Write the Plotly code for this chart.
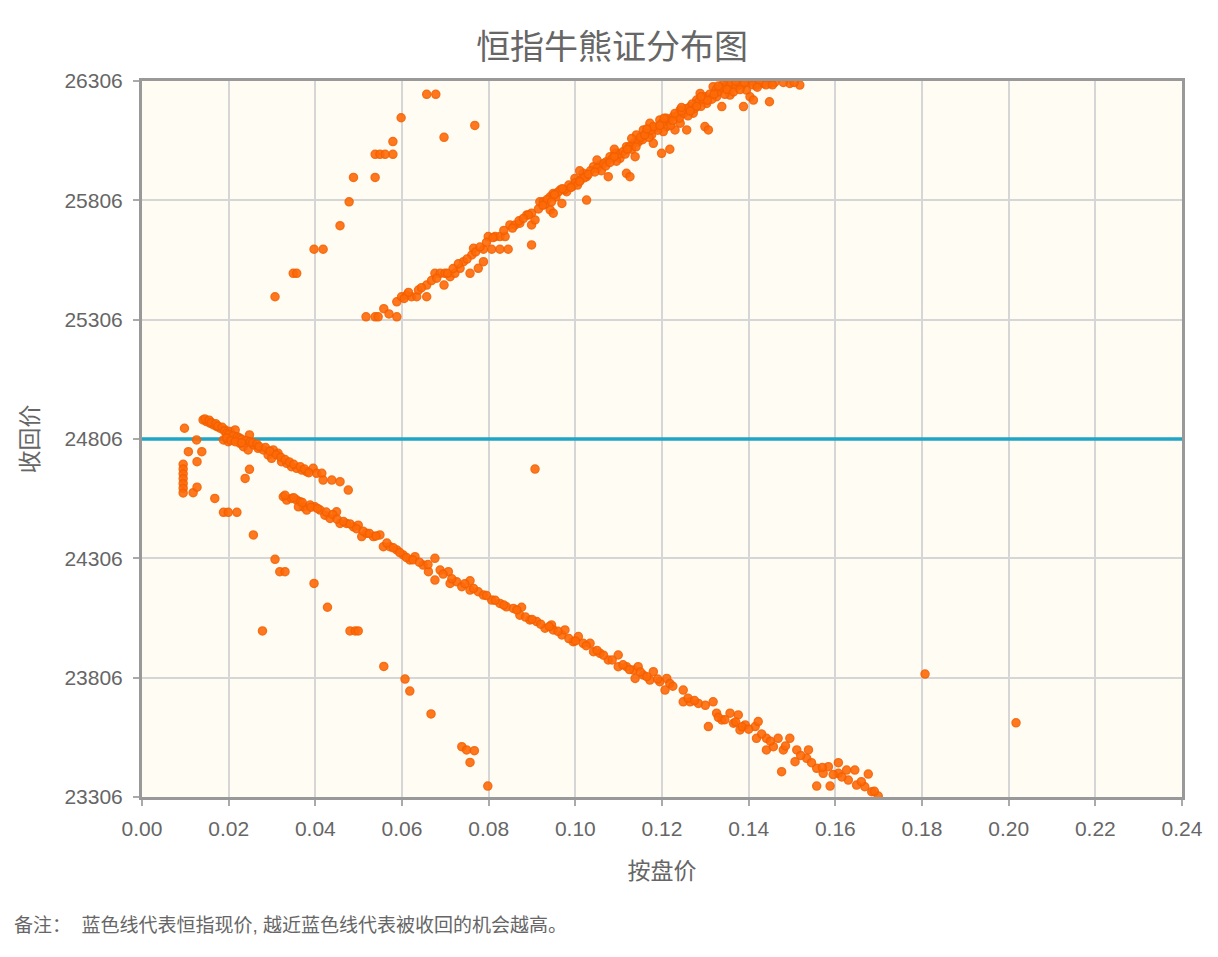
import plotly.graph_objects as go

# 恒指现价 (blue line)
spot_price = 24806
x_range = [0, 0.24]
y_ticks = [23306, 23806, 24306, 24806, 25306, 25806, 26306]

# 熊证 - steep sparse group (upper left)
steep_x = [0.0307, 0.0349, 0.0357, 0.0397, 0.0418, 0.0457, 0.0478, 0.0488, 0.0538, 0.0538,
           0.0549, 0.0561, 0.0579, 0.0579, 0.0598, 0.0657, 0.0678, 0.0697, 0.0768]
steep_y = [25402, 25500, 25500, 25601, 25601, 25700, 25800, 25902, 25902, 25999,
           25999, 25999, 25999, 26052, 26152, 26250, 26250, 26070, 26120]

# 熊证 - main band
bear_x = [0.0517, 0.0538, 0.0545, 0.0558, 0.0588, 0.0588, 0.0599, 0.0611, 0.0622, 0.0634,
          0.0638, 0.0657, 0.0657, 0.0676, 0.0688, 0.0699, 0.0697, 0.0711, 0.0722, 0.0734,
          0.0742, 0.0757, 0.0761, 0.0765, 0.0776, 0.0788, 0.0788, 0.0799, 0.0807, 0.0815,
          0.0826, 0.0826, 0.0838, 0.0845, 0.0849, 0.0861, 0.0872, 0.0888, 0.0899, 0.0899,
          0.0899, 0.0907, 0.0918, 0.0892, 0.0926, 0.0942, 0.0949, 0.0942, 0.0949, 0.0965,
          0.0969, 0.0980, 0.0992, 0.0999, 0.1011, 0.1018, 0.1026, 0.1026, 0.1042, 0.1057,
          0.1072, 0.1076, 0.1080, 0.1092, 0.1103, 0.1118, 0.1126, 0.1118, 0.1134, 0.1138,
          0.1141, 0.1149, 0.1157, 0.1172, 0.1180, 0.1176, 0.1195, 0.1199, 0.1218, 0.1211,
          0.1203, 0.1226, 0.1230, 0.1242, 0.1242, 0.1257, 0.1265, 0.1272, 0.1280, 0.1288,
          0.1299, 0.1307, 0.1303, 0.1318, 0.1326, 0.1334, 0.1338, 0.1349, 0.1357, 0.1365,
          0.1380, 0.1388, 0.1395, 0.1403, 0.1411, 0.1418, 0.1434, 0.1448, 0.1449, 0.1495,
          0.1518,
          0.0570, 0.0605, 0.0615, 0.0645, 0.0668, 0.0680, 0.0705, 0.0718, 0.0730, 0.0750,
          0.0770, 0.0780, 0.0795, 0.0810, 0.0835, 0.0855, 0.0870, 0.0880, 0.0915, 0.0930,
          0.0935, 0.0955, 0.0960, 0.0975, 0.0985, 0.1000, 0.1005, 0.1020, 0.1035, 0.1050,
          0.1060, 0.1065, 0.1085, 0.1095, 0.1100, 0.1110, 0.1125, 0.1130, 0.1145, 0.1155,
          0.1165, 0.1170, 0.1185, 0.1190, 0.1200, 0.1215, 0.1220, 0.1235, 0.1240, 0.1250,
          0.1255, 0.1260, 0.1270, 0.1275, 0.1285, 0.1290, 0.1300, 0.1310, 0.1315, 0.1325,
          0.1330, 0.1340, 0.1345, 0.1355, 0.1360, 0.1370, 0.1375, 0.1385, 0.1400, 0.1410,
          0.1425, 0.1440, 0.1460, 0.1505,
          0.0925, 0.0945, 0.0952, 0.0970, 0.0990, 0.1010, 0.1030, 0.1045, 0.1070, 0.1080,
          0.1090, 0.1115, 0.1120, 0.1140, 0.1150, 0.1160, 0.1175, 0.1180, 0.1195, 0.1210,
          0.1225, 0.1230, 0.1245, 0.1265, 0.1280, 0.1295, 0.1305, 0.1320, 0.1335, 0.1350,
          0.1365, 0.1380, 0.1390, 0.1420, 0.1455, 0.1480,
          0.1010, 0.1050, 0.1090, 0.1130, 0.1165, 0.1205, 0.1245, 0.1290, 0.1330, 0.1370]
bear_y = [25318, 25318, 25318, 25352, 25318, 25381, 25402, 25409, 25402, 25402,
          25430, 25451, 25402, 25500, 25500, 25500, 25451, 25486, 25500, 25521,
          25549, 25500, 25577, 25605, 25521, 25549, 25601, 25654, 25601, 25654,
          25654, 25601, 25654, 25601, 25703, 25703, 25710, 25745, 25752, 25619,
          25703, 25724, 25800, 25745, 25800, 25821, 25835, 25766, 25752, 25849,
          25793, 25842, 25863, 25898, 25891, 25919, 25905, 25807, 25947, 25954,
          25968, 25905, 25989, 26003, 25982, 25919, 25905, 26031, 26045, 25989,
          26080, 26059, 26101, 26129, 26045, 26080, 26143, 26003, 26020, 26115,
          26094, 26157, 26101, 26185, 26129, 26101, 26199, 26171, 26226, 26254,
          26115, 26101, 26212, 26282, 26240, 26268, 26199, 26289, 26247, 26296,
          26289, 26199, 26268, 26240, 26226, 26289, 26296, 26219, 26296, 26296,
          26289,
          25330, 25395, 25420, 25440, 25470, 25480, 25500, 25520, 25540, 25560,
          25590, 25610, 25630, 25650, 25680, 25690, 25720, 25730, 25770, 25790,
          25810, 25820, 25840, 25850, 25870, 25880, 25870, 25900, 25930, 25940,
          25930, 25960, 25980, 25970, 26000, 26010, 26030, 26020, 26050, 26060,
          26090, 26070, 26110, 26100, 26130, 26140, 26120, 26160, 26150, 26170,
          26190, 26160, 26210, 26190, 26220, 26200, 26240, 26250, 26230, 26270,
          26260, 26290, 26250, 26280, 26300, 26280, 26300, 26290, 26300, 26290,
          26300, 26290, 26300, 26300,
          25785, 25800, 25830, 25855, 25860, 25885, 25915, 25925, 25950, 25965,
          25990, 26000, 26020, 26030, 26070, 26080, 26100, 26115, 26120, 26150,
          26140, 26170, 26180, 26180, 26200, 26230, 26225, 26250, 26280, 26270,
          26260, 26270, 26300, 26280, 26290, 26300,
          25930, 25975, 26020, 26065, 26105, 26150, 26195, 26240, 26285, 26305]

# 牛证 - group hugging the blue line
near_x = [0.0098, 0.0126, 0.0107, 0.0138, 0.0127, 0.0095, 0.0095, 0.0095, 0.0095, 0.0095,
          0.0095, 0.0095, 0.0118, 0.0127, 0.0248, 0.0238, 0.0248,
          0.0141, 0.0149, 0.0157, 0.0165, 0.0173, 0.0180, 0.0192, 0.0203, 0.0215, 0.0188,
          0.0199, 0.0211, 0.0226, 0.0234, 0.0245, 0.0257, 0.0268, 0.0280, 0.0291, 0.0303,
          0.0299, 0.0314, 0.0322, 0.0334, 0.0345, 0.0357, 0.0369, 0.0380, 0.0395, 0.0403,
          0.0415, 0.0418, 0.0438, 0.0457, 0.0476,
          0.0145, 0.0155, 0.0160, 0.0170, 0.0175, 0.0185, 0.0190, 0.0195, 0.0200, 0.0210,
          0.0220, 0.0225, 0.0230, 0.0240, 0.0250, 0.0255, 0.0265, 0.0270, 0.0285, 0.0295,
          0.0310, 0.0320, 0.0330, 0.0340, 0.0350, 0.0365, 0.0375, 0.0385, 0.0195, 0.0205,
          0.0215, 0.0230]
near_y = [24851, 24802, 24753, 24753, 24711, 24700, 24680, 24660, 24640, 24620,
          24600, 24580, 24581, 24604, 24679, 24641, 24823,
          24886, 24879, 24872, 24865, 24858, 24851, 24844, 24837, 24844, 24802,
          24795, 24802, 24788, 24774, 24760, 24781, 24767, 24760, 24739, 24760,
          24725, 24746, 24711, 24704, 24690, 24683, 24676, 24669, 24683, 24662,
          24662, 24634, 24634, 24627, 24592,
          24890, 24885, 24875, 24870, 24860, 24855, 24840, 24830, 24825, 24820,
          24815, 24810, 24805, 24800, 24795, 24790, 24785, 24775, 24770, 24755,
          24740, 24730, 24720, 24710, 24700, 24690, 24680, 24665, 24810, 24800,
          24795, 24790]

# 牛证 - main band
bull_x = [0.0326, 0.0334, 0.0345, 0.0357, 0.0365, 0.0372, 0.0361, 0.0380, 0.0388, 0.0399,
          0.0411, 0.0422, 0.0434, 0.0449, 0.0457, 0.0472, 0.0488, 0.0499, 0.0507, 0.0518,
          0.0534, 0.0549, 0.0557, 0.0572, 0.0588, 0.0603, 0.0618, 0.0630, 0.0649, 0.0661,
          0.0676, 0.0676, 0.0688, 0.0707, 0.0711, 0.0726, 0.0738, 0.0757, 0.0757, 0.0776,
          0.0788, 0.0807, 0.0826, 0.0841, 0.0857, 0.0872, 0.0876, 0.0895, 0.0911, 0.0930,
          0.0945, 0.0949, 0.0969, 0.0976, 0.0995, 0.1007, 0.1018, 0.1034, 0.1042, 0.1057,
          0.1076, 0.1099, 0.1099, 0.1118, 0.1134, 0.1145, 0.1138, 0.1157, 0.1172, 0.1180,
          0.1195, 0.1211, 0.1207, 0.1218, 0.1249, 0.1249, 0.1265, 0.1284, 0.1318, 0.1307,
          0.1326, 0.1338, 0.1357, 0.1365, 0.1376, 0.1380, 0.1392, 0.1415, 0.1422, 0.1418,
          0.1441, 0.1441, 0.1457, 0.1468, 0.1480, 0.1476, 0.1495, 0.1507, 0.1511, 0.1538,
          0.1534, 0.1557, 0.1557, 0.1572, 0.1584, 0.1588, 0.1607, 0.1607, 0.1626, 0.1630,
          0.1645, 0.1649, 0.1668, 0.1676, 0.1684, 0.1699,
          0.0330, 0.0350, 0.0370, 0.0390, 0.0405, 0.0425, 0.0440, 0.0450, 0.0465, 0.0480,
          0.0495, 0.0510, 0.0525, 0.0540, 0.0565, 0.0580, 0.0595, 0.0610, 0.0625, 0.0640,
          0.0660, 0.0695, 0.0715, 0.0745, 0.0765, 0.0795, 0.0815, 0.0835, 0.0865, 0.0885,
          0.0900, 0.0920, 0.0940, 0.0960, 0.0985, 0.1000, 0.1025, 0.1050, 0.1065, 0.1085,
          0.1110, 0.1125, 0.1150, 0.1165, 0.1190, 0.1225, 0.1260, 0.1275, 0.1300, 0.1330,
          0.1345, 0.1370, 0.1385, 0.1400, 0.1430, 0.1450, 0.1485, 0.1520, 0.1545, 0.1570,
          0.1595, 0.1615, 0.1660, 0.1690]
bull_y = [24564, 24550, 24557, 24550, 24543, 24522, 24522, 24508, 24529, 24522,
          24508, 24487, 24473, 24501, 24452, 24452, 24438, 24445, 24397, 24411,
          24397, 24404, 24355, 24355, 24341, 24320, 24299, 24313, 24278, 24250,
          24306, 24215, 24257, 24250, 24201, 24208, 24187, 24212, 24173, 24166,
          24152, 24131, 24117, 24103, 24096, 24068, 24101, 24048, 24041, 24013,
          24027, 24006, 23985, 24006, 23957, 23978, 23950, 23950, 23915, 23908,
          23880, 23901, 23852, 23852, 23838, 23852, 23803, 23817, 23796, 23831,
          23789, 23803, 23754, 23782, 23754, 23705, 23705, 23698, 23705, 23601,
          23657, 23629, 23657, 23615, 23650, 23587, 23608, 23601, 23622, 23552,
          23552, 23503, 23517, 23552, 23503, 23412, 23552, 23454, 23503, 23503,
          23468, 23426, 23352, 23405, 23433, 23352, 23450, 23405, 23419, 23377,
          23419, 23356, 23349, 23402, 23328, 23310,
          24570, 24560, 24540, 24520, 24515, 24500, 24490, 24470, 24460, 24450,
          24430, 24420, 24410, 24400, 24370, 24350, 24330, 24310, 24300, 24290,
          24280, 24240, 24220, 24200, 24180, 24150, 24130, 24110, 24090, 24060,
          24050, 24030, 24020, 24000, 23970, 23960, 23940, 23920, 23900, 23880,
          23860, 23840, 23830, 23810, 23800, 23770, 23720, 23710, 23690, 23640,
          23630, 23620, 23600, 23590, 23570, 23540, 23520, 23480, 23450, 23430,
          23400, 23390, 23370, 23330]

# 牛证 - sparse steep group (lower left) and outliers
sparse_x = [0.0168, 0.0188, 0.0199, 0.0219, 0.0257, 0.0307, 0.0318, 0.0330, 0.0397, 0.0278,
            0.0428, 0.0480, 0.0492, 0.0499, 0.0558, 0.0607, 0.0618, 0.0667, 0.0738, 0.0749,
            0.0767, 0.0757, 0.0798, 0.0907, 0.1807, 0.2017]
sparse_y = [24557, 24499, 24499, 24499, 24404, 24302, 24250, 24250, 24201, 24002,
            24101, 24002, 24002, 24002, 23853, 23800, 23750, 23654, 23517, 23503,
            23500, 23451, 23352, 24680, 23821, 23617]

marker_style = dict(size=8, color='#ff6a08', opacity=0.9,
                    line=dict(color='#f46000', width=1.5))
text_color = '#666666'


def generate_graph():
    fig = go.Figure()
    # blue line = current index level
    fig.add_trace(go.Scatter(x=x_range, y=[spot_price, spot_price], mode='lines',
                             line=dict(color='#1fa5c6', width=3.5), hoverinfo='skip',
                             showlegend=False))
    for xs, ys in [(steep_x, steep_y), (bear_x, bear_y), (near_x, near_y),
                   (bull_x, bull_y), (sparse_x, sparse_y)]:
        fig.add_trace(go.Scatter(x=xs, y=ys, mode='markers', marker=marker_style,
                                 showlegend=False))

    axis_style = dict(showline=True, linecolor='#999999', linewidth=3, mirror=True,
                      showgrid=True, gridcolor='#d6d6d6', gridwidth=2, zeroline=False,
                      ticks='outside', ticklen=6, tickcolor='#aaaaaa', tickwidth=1.5,
                      tickfont=dict(size=21, color=text_color))
    fig.update_xaxes(range=x_range, dtick=0.02, tick0=0, tickformat='.2f', ticklabelstandoff=5,
                     title=dict(text='按盘价', font=dict(size=23, color=text_color), standoff=24),
                     **axis_style)
    fig.update_yaxes(range=[y_ticks[0], y_ticks[-1]], tickvals=y_ticks,
                     ticktext=[str(v) for v in y_ticks], ticklabelstandoff=6,
                     title=dict(text='收回价', font=dict(size=23, color=text_color), standoff=20),
                     **axis_style)

    fig.update_layout(
        width=1218, height=957,
        title=dict(text='恒指牛熊证分布图', x=0.496, xanchor='center', y=0.959, yanchor='middle',
                   font=dict(size=34, color=text_color)),
        font=dict(family='Liberation Sans, Noto Sans CJK SC, sans-serif', color=text_color),
        paper_bgcolor='white', plot_bgcolor='#fffcf3',
        margin=dict(l=134, r=44, t=73, b=168),
        annotations=[dict(text='备注：  蓝色线代表恒指现价, 越近蓝色线代表被收回的机会越高。',
                          xref='paper', yref='paper', x=-0.1250, y=-0.1788,
                          xanchor='left', yanchor='middle', showarrow=False,
                          font=dict(size=19, color=text_color))],
    )
    fig.write_html("out.html")


if __name__ == '__main__':
    generate_graph()
